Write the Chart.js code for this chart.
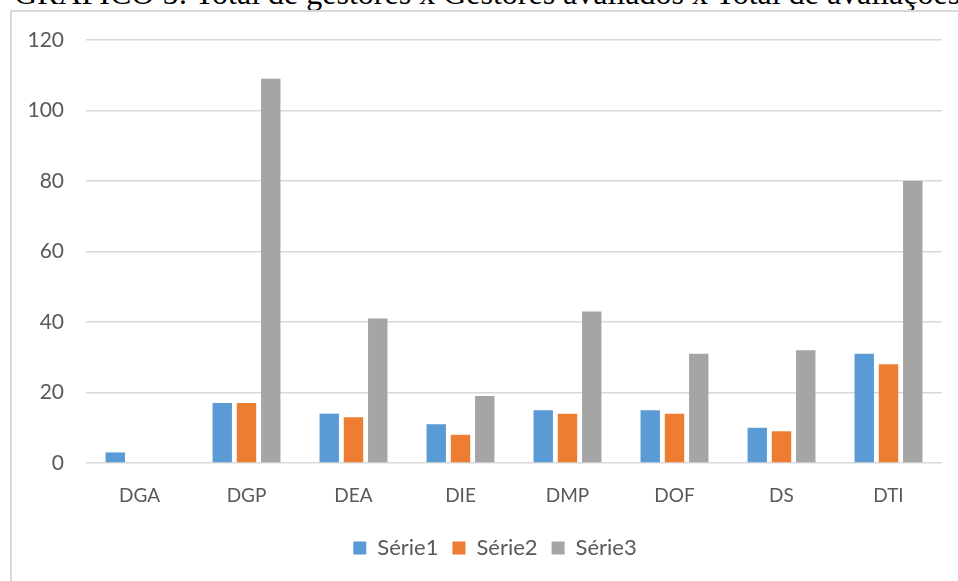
<!DOCTYPE html>
<html>
<head>
<meta charset="utf-8">
<script src="https://cdn.jsdelivr.net/npm/chart.js@4/dist/chart.umd.min.js"></script>
<style>
  html, body { margin: 0; padding: 0; background: #fff; }
  body { width: 958px; height: 581px; position: relative; overflow: hidden; }
  #titulo {
    position: absolute; left: 14px; top: -23px; white-space: nowrap; line-height: 32px;
    font-family: "Liberation Serif", "DejaVu Serif", serif; font-size: 32px; color: #000;
  }
  #caixa {
    position: absolute; left: 10px; top: 10px; width: 960px; height: 590px;
    border: 2px solid #d9d9d9; box-sizing: border-box;
  }
  #grafico { position: absolute; left: 0; top: 0; }
</style>
</head>
<body>
<div id="titulo">GRÁFICO 5: Total de gestores x Gestores avaliados x Total de avaliações</div>
<div id="caixa"></div>
<canvas id="grafico" width="958" height="581"></canvas>
<script>
const categorias = ['DGA', 'DGP', 'DEA', 'DIE', 'DMP', 'DOF', 'DS', 'DTI'];
const serie1 = [3, 17, 14, 11, 15, 15, 10, 31];
const serie2 = [0, 17, 13, 8, 14, 14, 9, 28];
const serie3 = [0, 109, 41, 19, 43, 31, 32, 80];
const yTicks = [0, 20, 40, 60, 80, 100, 120];

const familia = 'Lato, "Open Sans", sans-serif';

// empurra a legenda um pouco para a direita (no original ela não fica no centro exato)
const moveLegenda = {
    id: 'moveLegenda',
    afterLayout(chart) {
        chart.legend.left += 24;
        chart.legend.right += 24;
    }
};

new Chart(document.getElementById('grafico').getContext('2d'), {
    type: 'bar',
    data: {
        labels: categorias,
        datasets: [
            { label: 'Série1', data: serie1, backgroundColor: '#5b9bd5' },
            { label: 'Série2', data: serie2, backgroundColor: '#ed7d31' },
            { label: 'Série3', data: serie3, backgroundColor: '#a5a5a5' }
        ]
    },
    options: {
        responsive: false,
        animation: false,
        layout: { padding: { top: 40, right: 16, bottom: 12, left: 0 } },
        datasets: { bar: { categoryPercentage: 0.68, barPercentage: 0.8 } },
        scales: {
            y: {
                min: 0,
                max: 120,
                afterBuildTicks: (axis) => { axis.ticks = yTicks.map(v => ({ value: v })); },
                afterFit: (axis) => { axis.width = 86; },
                border: { display: false },
                grid: { color: '#d9d9d9', lineWidth: 1.5, drawTicks: false },
                ticks: { color: '#595959', font: { family: familia, size: 21 }, padding: 22 }
            },
            x: {
                afterFit: (axis) => { axis.height = 60; },
                border: { display: false },
                grid: { display: false },
                ticks: { color: '#595959', font: { family: familia, size: 19 }, padding: 13 }
            }
        },
        plugins: {
            legend: {
                position: 'bottom',
                labels: { color: '#595959', font: { family: familia, size: 22 }, boxWidth: 13, boxHeight: 13, padding: 14 }
            },
            tooltip: { enabled: false }
        }
    },
    plugins: [moveLegenda]
});
</script>
</body>
</html>
